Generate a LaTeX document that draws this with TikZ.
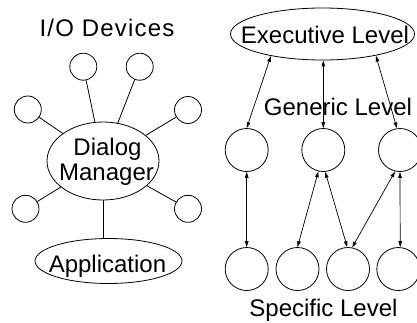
\documentclass[tikz,border=0pt]{standalone}
\usepackage{fontspec}
\setmainfont{Liberation Sans}
\usetikzlibrary{shapes.geometric,arrows.meta}
\begin{document}
\begin{tikzpicture}[x=1pt,y=-1pt,
  every path/.style={line width=0.8pt},
  ell/.style={draw, ellipse, inner sep=0pt},
  smallc/.style={draw, circle, inner sep=0pt, minimum size=27pt},
  bigc/.style={draw, circle, inner sep=0pt, minimum size=43pt},
  txt/.style={inner sep=0pt, anchor=base, font=\fontsize{24}{25}\selectfont},
  biarrow/.style={{Triangle[length=6pt,width=3.5pt]}-{Triangle[length=6pt,width=3.5pt]}, line width=0.7pt}
]
\useasboundingbox (0,0) rectangle (417,322);
% ---- left: I/O devices ----
\node[txt] (iotitle) at (107,36) {\addfontfeature{LetterSpace=5}I/O Devices};
\node[ell, minimum width=112pt, minimum height=78pt] (dm) at (103,161) {};
\node[txt] (dm1) at (107.5,155) {Dialog};
\node[txt] (dm2) at (106.5,180) {Manager};
\node[ell, minimum width=147pt, minimum height=45pt] (app) at (108.5,261) {};
\node[txt] (appt) at (107.5,272) {Application};
\node[smallc] (d1) at (83.3,66.7) {};
\node[smallc] (d2) at (139.7,66.7) {};
\node[smallc] (d3) at (27.8,109.5) {};
\node[smallc] (d4) at (188,110) {};
\node[smallc] (d5) at (25.5,208.8) {};
\node[smallc] (d6) at (188,208.8) {};
\foreach \d in {d1,d2,d3,d4,d5,d6} \draw (\d) -- (dm);
\draw (dm.south) -- (dm.south |- app.north);
% ---- right: levels ----
\node[ell, minimum width=184pt, minimum height=52pt] (exec) at (322.5,34) {};
\node[txt] (exect) at (325,43.3) {Executive Level};
\node[txt] (gen) at (338,115.7) {Generic Level};
\node[txt] (spec) at (323.5,316.7) {Specific Level};
\node[bigc] (m1) at (246.7,150) {};
\node[bigc] (m2) at (323.3,150) {};
\node[bigc] (m3) at (400,150) {};
\node[bigc] (b1) at (246.7,269) {};
\node[bigc] (b2) at (297.5,269) {};
\node[bigc] (b3) at (348,269) {};
\node[bigc] (b4) at (398.3,269) {};
\draw[biarrow] (exec.-157.5) -- (m1.north);
\draw[biarrow] (exec.south -| m2.north) -- (m2.north);
\draw[biarrow] (exec.-22.9) -- (m3.98);
\draw[biarrow] (m1.south) -- (b1.north);
\draw[biarrow] (m2.-103.5) -- (b2.north);
\draw[biarrow] (m2.-85.6) -- (b3.92.6);
\draw[biarrow] (m3.-103) -- (b3.79.7);
\draw[biarrow] (m3.south) -- (b4.85.6);
\end{tikzpicture}
\end{document}
